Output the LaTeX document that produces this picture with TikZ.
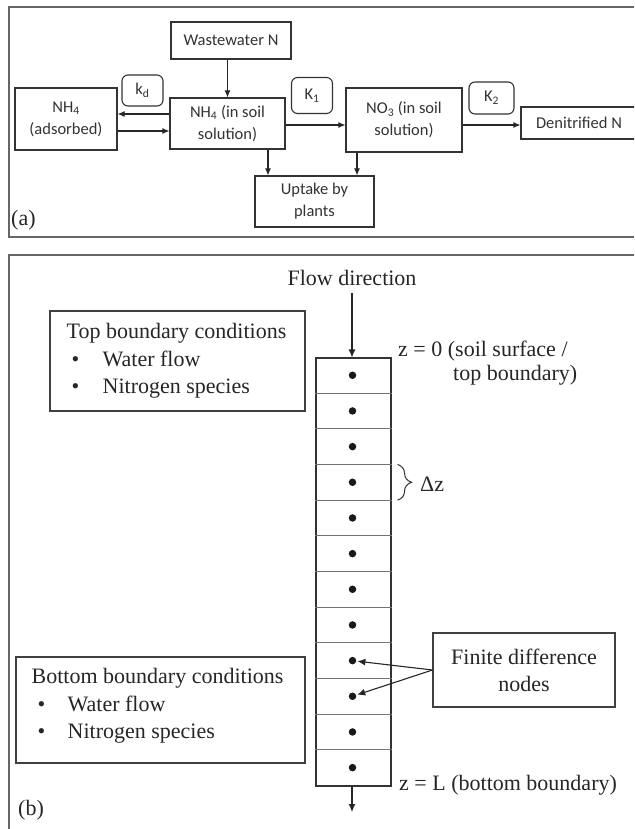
\documentclass[tikz,border=0pt]{standalone}
\usepackage{fontspec}
\setmainfont{Liberation Serif}
\newfontfamily\calib{Carlito}
\usetikzlibrary{arrows.meta,decorations.pathreplacing}
\begin{document}
\begin{tikzpicture}[x=1pt,y=-1pt,
  abox/.style={draw=black!80, line width=1.1pt, rectangle, inner sep=0pt,
    font=\calib\fontsize{16.5}{22}\selectfont, text=black!80, align=center},
  kbox/.style={abox, rounded corners=6pt},
  arr/.style={draw=black!85, line width=1.1pt, -{Latex[length=7pt,width=6pt]}},
  arrb/.style={draw=black!85, line width=1.1pt, -{Latex[length=8pt,width=7pt]}},
  bbox/.style={draw=black!75, line width=1.1pt, rectangle, inner sep=0pt},
  btext/.style={font=\fontsize{22}{27.5}\selectfont, text=black!85, inner sep=0pt},
  gridl/.style={draw=black!55, line width=0.9pt},
  dotn/.style={circle, fill=black!90, inner sep=0pt, minimum size=7.5pt},
  pframe/.style={draw=black!60, line width=2pt},
  bracedec/.style={draw=black!80, line width=1pt, decorate, decoration={brace, amplitude=14pt}}
]
\useasboundingbox (0,0) rectangle (634,829);
\clip (0,0) rectangle (634,829);
\fill[white] (0,0) rectangle (634,829);

% ---------- panel (a) ----------
\draw[pframe] (636,7) -- (9,7) -- (9,237) -- (636,237);
\node[abox, minimum width=120pt, minimum height=37pt] (wwn) at (231,40.5) {Wastewater N};
\node[abox, minimum width=102pt, minimum height=62pt] (ads) at (66,119) {NH\textsubscript{4}\\(adsorbed)};
\node[kbox, minimum width=41pt, minimum height=31pt] (kd) at (142.5,90.5) {k\textsubscript{d}};
\node[abox, minimum width=115pt, minimum height=51pt] (nh4) at (227.5,123.5) {NH\textsubscript{4} (in soil\\solution)};
\node[kbox, minimum width=41pt, minimum height=36pt] (k1) at (312,95.5) {K\textsubscript{1}};
\node[abox, minimum width=116pt, minimum height=64pt] (no3) at (404,120) {NO\textsubscript{3} (in soil\\solution)};
\node[kbox, minimum width=45pt, minimum height=32pt] (k2) at (491.5,98) {K\textsubscript{2}};
\node[abox, minimum width=116pt, minimum height=32pt] (den) at (579,123) {Denitrified N};
\node[abox, minimum width=119pt, minimum height=51pt] (upt) at (314.5,201.5) {Uptake by\\plants};
\node[btext, anchor=west] (la) at (11,220) {(a)};

\draw[arr] (nh4.north |- wwn.south) -- (nh4.north);
\draw[arr] ([yshift=9.5pt]nh4.west) -- ([yshift=9.5pt]nh4.west -| ads.east);
\draw[arr] ([yshift=-7.5pt]nh4.west -| ads.east) -- ([yshift=-7.5pt]nh4.west);
\draw[arr] ([yshift=-1.5pt]nh4.east) -- ([yshift=-1.5pt]nh4.east -| no3.west);
\draw[arr] ([yshift=-5pt]no3.east) -- ([yshift=-5pt]no3.east -| den.west);
\draw[arr] ([xshift=40.5pt]nh4.south) -- ([xshift=40.5pt]nh4.south |- upt.north);
\draw[arr] ([xshift=-47pt]no3.south) -- ([xshift=-47pt]no3.south |- upt.north);

% ---------- panel (b) ----------
\draw[pframe] (636,255) -- (9,255) -- (9,832);
\node[btext] (flow) at (352,278) {Flow direction};
\node[draw=black!80, line width=1.1pt, rectangle, inner sep=0pt, minimum width=75pt, minimum height=428pt] (col) at (353.5,572) {};
\foreach \i in {1,...,11}{
  \draw[gridl] ([yshift=-\i*35.667pt]col.north west) -- ([yshift=-\i*35.667pt]col.north east);
}
\foreach \i in {1,...,12}{
  \node[dotn] (d\i) at ([xshift=-1pt,yshift={-(\i-0.5)*35.667pt}]col.north) {};
}
\coordinate (flowstart) at (352,293);
\draw[arrb] (flowstart) -- (flowstart |- col.north);
\coordinate (botend) at (352,812);
\draw[arrb] (col.south -| botend) -- (botend);

\node[btext, anchor=west, align=left, font=\fontsize{22}{24}\selectfont] (z0) at (398,363)
  {z = 0 (soil surface /\\\hspace*{55pt}top boundary)};
\draw[bracedec] ([xshift=6pt,yshift=-3*35.667pt]col.north east) -- ([xshift=6pt,yshift=-4*35.667pt]col.north east);
\node[btext, anchor=west] (dz) at (420,484) {Δz};
\node[btext, anchor=west] (zL) at (399,785) {z = L (bottom boundary)};

\node[bbox, minimum width=255pt, minimum height=100pt] (topbc) at (177.5,361) {};
\node[btext, anchor=west, align=left] (topbct) at ([xshift=17pt]topbc.west)
  {Top boundary conditions\\\hspace*{5pt}\makebox[31pt][l]{•}Water flow\\\hspace*{5pt}\makebox[31pt][l]{•}Nitrogen species};

\node[bbox, minimum width=289pt, minimum height=106pt] (botbc) at (160.5,710) {};
\node[btext, anchor=west, align=left] (botbct) at ([xshift=16pt,yshift=4pt]botbc.west)
  {Bottom boundary conditions\\\hspace*{6pt}\makebox[30pt][l]{•}Water flow\\\hspace*{6pt}\makebox[30pt][l]{•}Nitrogen species};

\node[bbox, btext, align=center, font=\fontsize{22}{27}\selectfont, minimum width=182pt, minimum height=74pt] (fdn) at (524,670) {Finite difference\\nodes};
\draw[arrb, shorten >=1pt] (fdn.west) -- (d9);
\draw[arrb, shorten >=1pt] (fdn.west) -- (d10);

\node[btext, anchor=west] (lb) at (18,810) {(b)};
\end{tikzpicture}
\end{document}
